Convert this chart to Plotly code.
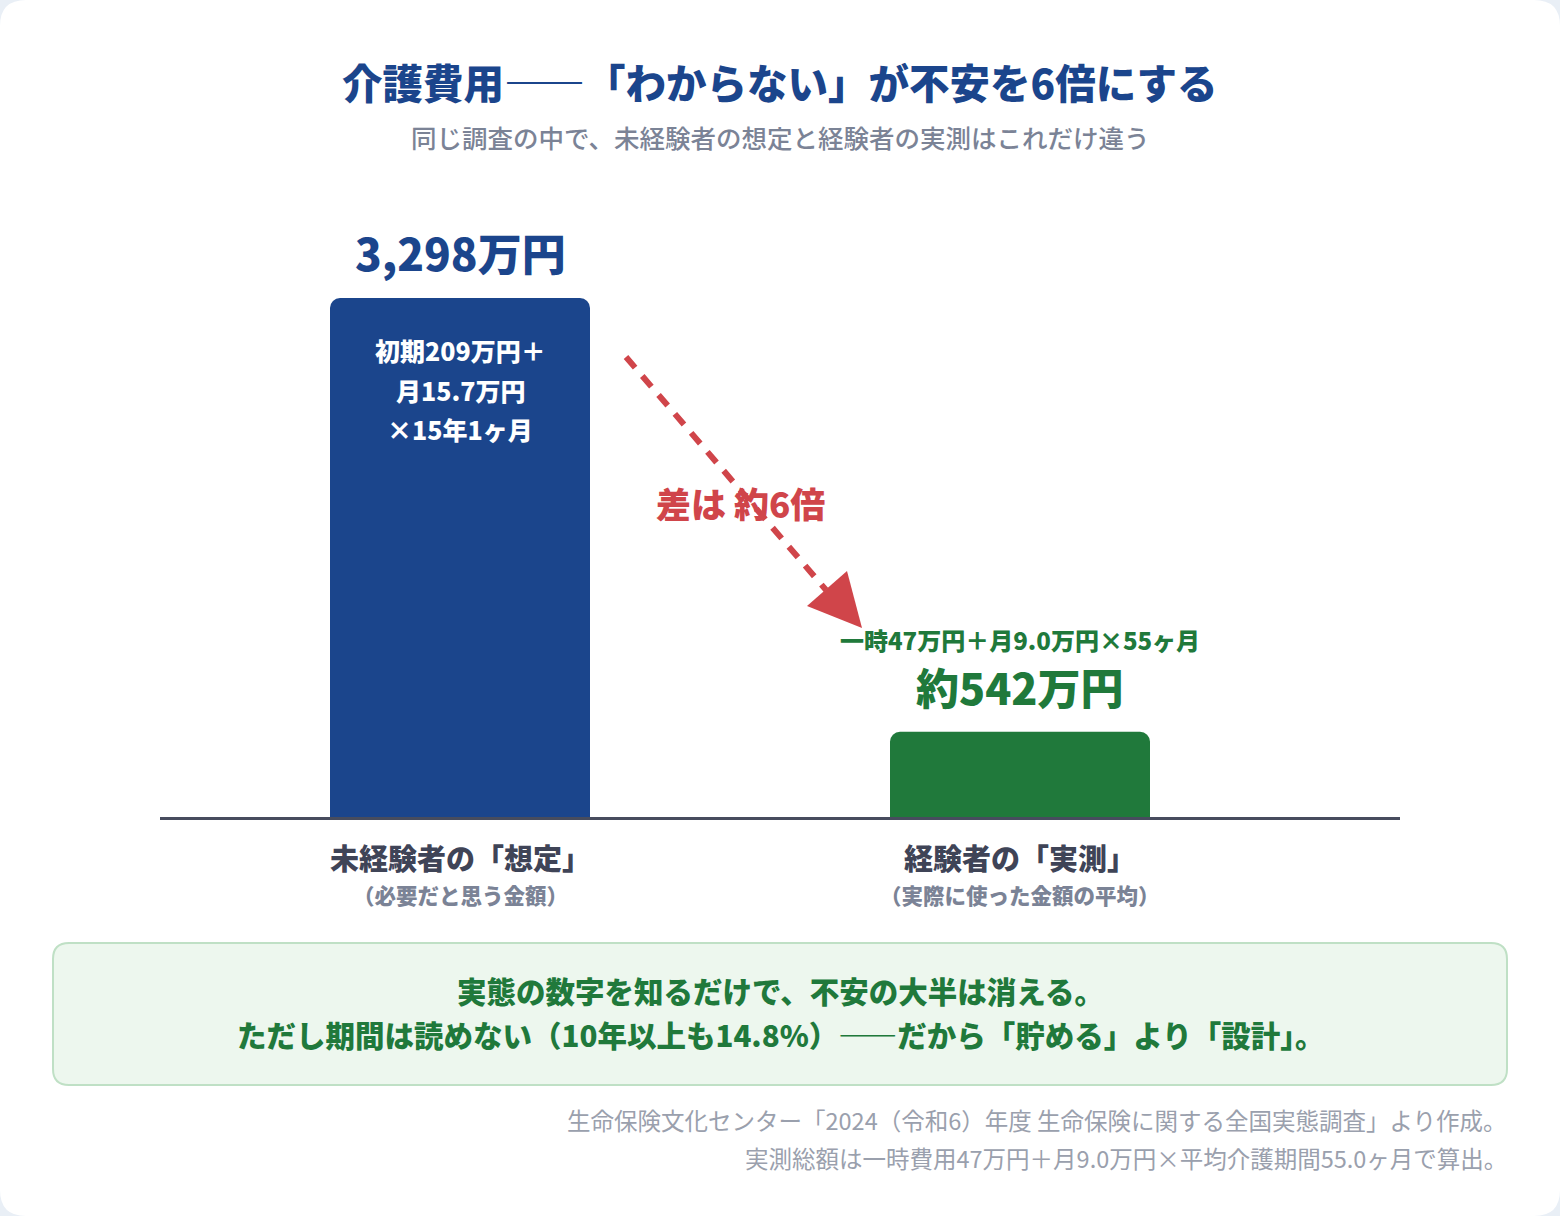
import plotly.graph_objects as go

# ---------------- data ----------------
categories = ["未経験者の「想定」", "経験者の「実測」"]
category_notes = ["（必要だと思う金額）", "（実際に使った金額の平均）"]
values = [3298, 542]
value_labels = ["3,298万円", "約542万円"]
bar_colors = ["#1b458c", "#20793b"]
blue_inner_lines = ["初期209万円＋", "月15.7万円", "×15年1ヶ月"]
green_formula = "一時47万円＋月9.0万円×55ヶ月"
gap_label = "差は 約6倍"
title_text = "介護費用――「わからない」が不安を6倍にする"
subtitle_text = "同じ調査の中で、未経験者の想定と経験者の実測はこれだけ違う"
note_lines = ["実態の数字を知るだけで、不安の大半は消える。",
              "ただし期間は読めない（10年以上も14.8%）――だから「貯める」より「設計」。"]
source_lines = ["生命保険文化センター「2024（令和6）年度 生命保険に関する全国実態調査」より作成。",
                "実測総額は一時費用47万円＋月9.0万円×平均介護期間55.0ヶ月で算出。"]

# ---------------- layout geometry ----------------
W, H = 1560, 1216
L, R, T, B = 160, 160, 200, 399
PW, PH = W - L - R, H - T - B
base_px = H - B          # 817
top_bar_px = 298
ymax = values[0] * (base_px - T) / (base_px - top_bar_px)
x0 = -300 / 560
x1 = x0 + PW / 560
TXT_OFF = 3  # font baseline compensation (px)

FONT = "Noto Sans CJK JP"


def px(xp):
    return (xp - L) / PW


def py(yp):
    return (base_px - yp) / PH


fig = go.Figure()
fig.add_trace(go.Bar(
    x=[0, 1], y=values, width=260 / 560,
    marker=dict(color=bar_colors, line=dict(width=0)),
    hoverinfo="skip", showlegend=False,
))

ann = []


def add(text, x, y, size, color, weight, xref="paper", yref="paper", yshift=0, xanchor="center"):
    ann.append(dict(text=text, x=x, y=y, xref=xref, yref=yref, yshift=yshift + TXT_OFF,
                    xanchor=xanchor, yanchor="middle", showarrow=False,
                    font=dict(family=FONT, size=size, color=color, weight=weight)))


# title + subtitle
add(title_text, px(780), py(84), 40.5, "#1b458c", 900)
add(subtitle_text, px(780), py(139), 25.5, "#7b8396", 500)

# value labels
add(value_labels[0], 0, values[0], 44, "#1b458c", 900, "x", "y", yshift=43)
add(value_labels[1], 1, values[1], 43, "#20793b", 900, "x", "y", yshift=43)
add(green_formula, 1, values[1], 24, "#20793b", 800, "x", "y", yshift=89)
for i, line in enumerate(blue_inner_lines):
    add(line, 0, values[0], 25, "#ffffff", 800, "x", "y", yshift=-(55 + 39.5 * i))

# category labels
for i, (c, n) in enumerate(zip(categories, category_notes)):
    add(c, i, 0, 29, "#3f4457", 900, "x", "y", yshift=-43)
    add(n, i, 0, 21.5, "#7b8396", 800, "x", "y", yshift=-80)

# gap label
add(gap_label, px(740), py(505), 35, "#d0454a", 900)

# note box text
for i, line in enumerate(note_lines):
    add(line, px(780), py(993 + 44 * i), 29.5, "#20793b", 900)

# source
for i, line in enumerate(source_lines):
    add(line, px(1509), py(1123 + 38 * i), 23.5, "#9aa0ad", 400, xanchor="right")


def rounded_rect(xa, ya, xb, yb, r):
    pts = [
        f"M {px(xa + r)} {py(ya)}",
        f"L {px(xb - r)} {py(ya)}",
        f"Q {px(xb)} {py(ya)} {px(xb)} {py(ya + r)}",
        f"L {px(xb)} {py(yb - r)}",
        f"Q {px(xb)} {py(yb)} {px(xb - r)} {py(yb)}",
        f"L {px(xa + r)} {py(yb)}",
        f"Q {px(xa)} {py(yb)} {px(xa)} {py(yb - r)}",
        f"L {px(xa)} {py(ya + r)}",
        f"Q {px(xa)} {py(ya)} {px(xa + r)} {py(ya)}",
        "Z",
    ]
    return " ".join(pts)


shapes = []
shapes.append(dict(type="path", xref="paper", yref="paper", layer="below",
                   path=rounded_rect(0, 0, W, H, 26),
                   fillcolor="#ffffff", line=dict(width=0)))
shapes.append(dict(type="path", xref="paper", yref="paper", layer="below",
                   path=rounded_rect(53, 943, 1507, 1085, 16),
                   fillcolor="#edf7ee", line=dict(color="#bfe0c5", width=2)))
shapes.append(dict(type="line", xref="paper", yref="paper",
                   x0=px(626), y0=py(357), x1=px(826), y1=py(590),
                   line=dict(color="#d0454a", width=6, dash="14px,11px")))
shapes.append(dict(type="path", xref="paper", yref="paper",
                   path=f"M {px(847)} {py(571)} L {px(807)} {py(606)} L {px(862)} {py(628)} Z",
                   fillcolor="#d0454a", line=dict(width=0)))

fig.update_layout(
    width=W, height=H,
    margin=dict(l=L, r=R, t=T, b=B, pad=0),
    paper_bgcolor="#e9eff6",
    plot_bgcolor="rgba(0,0,0,0)",
    barcornerradius=10,
    annotations=ann,
    shapes=shapes,
    xaxis=dict(range=[x0, x1], showgrid=False, zeroline=False, showticklabels=False,
               showline=True, linecolor="#474c5e", linewidth=3, ticks="", fixedrange=True),
    yaxis=dict(range=[0, ymax], showgrid=False, zeroline=False, showticklabels=False,
               showline=False, ticks="", fixedrange=True),
    font=dict(family=FONT),
)

fig.write_html("out.html", config={"displayModeBar": False})
